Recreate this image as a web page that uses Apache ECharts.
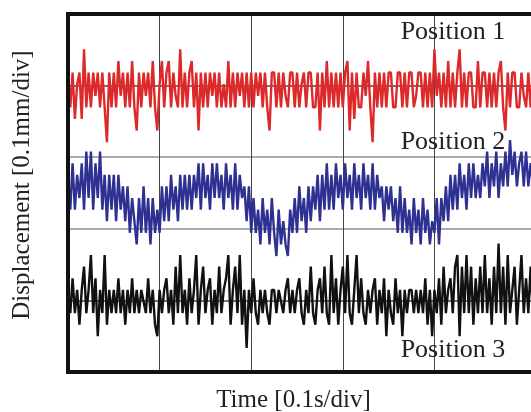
<!DOCTYPE html>
<html>
<head>
<meta charset="utf-8">
<script src="https://cdn.jsdelivr.net/npm/echarts@6/dist/echarts.min.js"></script>
<style>
  html, body { margin: 0; padding: 0; background: #fff; }
  #chart { width: 531px; height: 412px; }
</style>
</head>
<body>
<div id="chart"></div>
<script>
// Displacement traces, read off the picture as quantized sensor levels
// (one level ~ 0.162 div), sampled ~40 points per time division.
const LEVEL = 0.162;
const positionNames = ["Position 1", "Position 2", "Position 3"];
const baselines = [4.02, 2.43, 0.985]; // div, centre of each trace

const position1 = [
  1,-2,1,-3,0,1,-3,3,-2,1,
  -2,1,-1,1,-2,1,-2,-5,1,-2,
  1,-2,2,-1,1,-2,1,-2,2,-2,
  -4,1,-2,1,-1,1,-2,2,-2,-4,
  0,2,-2,1,2,-2,1,-1,-2,3,
  -2,1,-2,1,2,-2,1,-4,1,-2,
  1,-2,1,-1,1,-2,1,-2,0,-2,
  2,-2,1,-2,1,-1,1,-2,1,-2,
  1,-2,1,-1,1,-2,1,-2,-4,1,
  1,-2,1,-2,1,-1,-2,1,1,-2,
  1,-2,0,1,-2,1,1,-2,-2,1,
  -4,1,-2,2,-2,1,-2,1,-2,1,
  -2,1,2,-4,1,-3,1,-2,-2,1,
  -1,2,-2,-5,1,-2,1,-2,1,-2,
  1,1,-2,-2,1,1,-2,1,-2,1,
  1,-2,-1,1,1,-2,1,-2,1,-2,
  3,-1,1,-2,1,-2,2,-2,1,-2,
  1,3,-2,1,-2,1,1,-2,-2,2,
  -2,1,1,-2,1,-2,1,-2,1,2,
  -2,-4,1,-2,1,1,-2,-2,1,-1,
  -2,1,-2,1
];

const position2 = [
  2,-1,3,-1,2,0,3,-1,4,0,
  4,-1,3,0,4,-1,2,-2,2,-1,
  2,-2,2,-1,1,-2,1,-3,0,-2,
  -4,0,-3,1,-3,0,-4,0,-3,-1,
  -3,1,-2,1,-2,2,-1,1,-2,2,
  -1,2,-1,2,-1,2,0,3,-1,3,
  0,2,-1,3,0,3,0,2,-1,3,
  0,2,-1,3,-1,2,0,1,-2,1,
  -3,0,-3,-1,-4,0,-3,-1,-4,0,
  -3,-5,-1,-4,-2,-4,-5,-1,-3,0,
  -3,1,-2,0,-3,1,-2,1,-1,2,
  -2,2,-1,3,-1,2,-1,3,0,2,
  -1,3,0,2,-1,3,0,2,-1,3,
  0,2,-1,3,-1,2,0,1,-2,1,
  -1,1,-2,0,-3,1,-3,0,-3,-1,
  -4,0,-3,-1,-4,0,-3,-1,-4,-2,
  -3,0,-4,0,-2,1,-2,2,-1,2,
  -1,3,0,2,-1,3,0,3,0,2,
  0,3,1,4,0,3,1,4,0,3,
  1,4,1,5,2,4,1,3,4,1,
  4,1,3,1
];

const position3 = [
  1,-1,2,-1,1,-2,1,3,-1,1,
  4,-1,2,-3,1,-1,4,-2,1,-1,
  1,-1,2,-1,1,-2,1,-1,2,-1,
  1,-1,1,0,-1,2,-1,1,-2,-3,
  1,-1,1,2,-1,1,-2,3,-1,4,
  -1,1,-2,2,-1,1,4,-2,1,3,
  -1,1,2,-2,1,-1,3,-1,1,2,
  4,-2,1,3,-1,4,-2,1,-4,1,
  -1,2,-1,-2,1,-1,1,-1,-2,1,
  1,-1,1,0,-1,1,2,-1,1,-1,
  1,2,-1,-2,1,-1,3,-1,-2,1,
  2,-1,3,-1,-2,4,-1,2,-2,1,
  3,-1,4,-1,-2,1,4,-1,2,-1,
  -2,1,-1,1,2,-2,1,-1,2,-3,
  1,-1,-2,2,-1,1,-3,1,-1,1,
  1,-1,1,-1,1,-1,2,-2,1,-3,
  1,-1,2,-2,3,-1,1,2,-1,3,
  4,-3,3,-1,4,-1,3,-2,2,-1,
  3,-1,4,-1,2,-2,3,-1,5,-1,
  3,-2,4,-1,1,3,-2,1,4,-1,
  2,-1,3,-1
];

const traces = [position1, position2, position3];
const colors = ["#dc2a2a", "#2e3192", "#111111"];
const serif = "'Liberation Serif', 'DejaVu Serif', serif";

const chart = echarts.init(document.getElementById("chart"));

const series = traces.map((levels, k) => ({
  name: positionNames[k],
  type: "line",
  showSymbol: false,
  silent: true,
  lineStyle: { width: 2.4, color: colors[k] },
  itemStyle: { color: colors[k] },
  data: levels.map((l, i) => [i, baselines[k] + l * LEVEL]),
}));

chart.setOption({
  animation: false,
  backgroundColor: "#fff",
  grid: {
    left: 68,
    top: 14,
    bottom: 40,
    right: -12,
    show: true,
    z: 4,
    borderColor: "#111",
    borderWidth: 4,
    backgroundColor: "transparent",
    outerBoundsMode: "none",
  },
  xAxis: {
    type: "value",
    min: 0,
    max: 207.4,
    interval: 40,
    z: 3,
    name: "Time [0.1s/div]",
    nameLocation: "middle",
    nameGap: 16,
    nameTextStyle: {
      fontFamily: serif,
      fontSize: 25,
      color: "#222",
      padding: [0, 24, 0, 0],
    },
    axisLine: { show: false },
    axisTick: { show: false },
    axisLabel: { show: false },
    splitLine: {
      show: true,
      lineStyle: {
        width: 1,
        color: ["#444", "#444", "#444", "#444", "#444", "rgba(0,0,0,0)", "rgba(0,0,0,0)"],
      },
    },
  },
  yAxis: {
    type: "value",
    min: 0,
    max: 5,
    interval: 1,
    z: 3,
    name: "Displacement [0.1mm/div]",
    nameLocation: "middle",
    nameGap: 33,
    nameTextStyle: {
      fontFamily: serif,
      fontSize: 25,
      color: "#222",
      padding: [0, 0, 0, 16],
    },
    axisLine: { show: false },
    axisTick: { show: false },
    axisLabel: { show: false },
    splitLine: {
      show: true,
      lineStyle: {
        width: 1.5,
        color: ["#333", "#444", "#8f8f8f", "#8f8f8f", "#444", "#333"],
      },
    },
  },
  graphic: [
    { type: "text", x: 453, y: 32.5, z: 10,
      style: { text: positionNames[0], font: "26px " + serif, fill: "#222", align: "center", verticalAlign: "middle" } },
    { type: "text", x: 453, y: 142.5, z: 10,
      style: { text: positionNames[1], font: "26px " + serif, fill: "#222", align: "center", verticalAlign: "middle" } },
    { type: "text", x: 453, y: 350, z: 10,
      style: { text: positionNames[2], font: "26px " + serif, fill: "#222", align: "center", verticalAlign: "middle" } },
  ],
  series: series,
});
</script>
</body>
</html>
